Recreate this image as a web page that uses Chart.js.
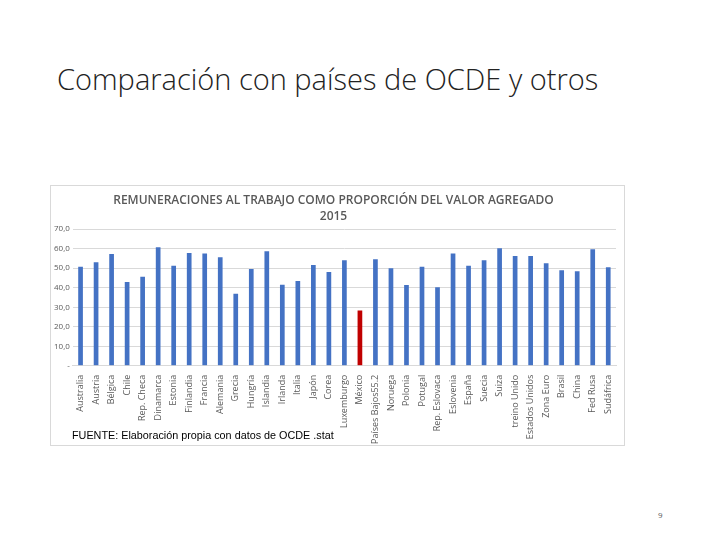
<!DOCTYPE html>
<html>
<head>
<meta charset="utf-8">
<script src="https://cdn.jsdelivr.net/npm/chart.js@4/dist/chart.umd.min.js"></script>
<style>
  html, body { margin: 0; padding: 0; background: #fff; }
  body { width: 720px; height: 540px; position: relative; overflow: hidden; font-family: "Open Sans", "Liberation Sans", sans-serif; }
  #titulo { position: absolute; left: 57px; top: 59px; font-size: 29px; font-weight: 300; color: #222; white-space: nowrap; }
  #marco { position: absolute; left: 50px; top: 185px; width: 575px; height: 261px; border: 1px solid #d9d9d9; box-sizing: border-box; }
  #grafico { display: block; }
  #fuente { position: absolute; left: 72px; top: 429px; font-family: "Liberation Sans", Arial, sans-serif; font-size: 10.8px; color: #000; white-space: nowrap; }
  #pagina { position: absolute; left: 658px; top: 509px; font-size: 8px; color: #595959; }
</style>
</head>
<body>
<div id="titulo">Comparación con países de OCDE y otros</div>
<div id="marco"><canvas id="grafico" width="573" height="259"></canvas></div>
<div id="fuente">FUENTE: Elaboración propia con datos de OCDE .stat</div>
<div id="pagina">9</div>
<script>
// Datos
const paises = ['Australia', 'Austria', 'Bélgica', 'Chile', 'Rep. Checa', 'Dinamarca', 'Estonia', 'Finlandia', 'Francia', 'Alemania',
  'Grecia', 'Hungría', 'Islandia', 'Irlanda', 'Italia', 'Japón', 'Corea', 'Luxemburgo', 'México', 'Países Bajos55.2',
  'Noruega', 'Polonia', 'Potugal', 'Rep. Eslovaca', 'Eslovenia', 'España', 'Suecia', 'Suiza', 'treino Unido', 'Estados Unidos',
  'Zona Euro', 'Brasil', 'China', 'Fed Rusa', 'Sudáfrica'];
const remuneraciones = [50.8, 53.0, 57.3, 42.9, 45.6, 60.8, 51.2, 57.8, 57.6, 55.6,
  36.9, 49.6, 58.7, 41.5, 43.4, 51.7, 48.0, 54.1, 28.3, 54.6,
  50.0, 41.4, 50.7, 40.3, 57.6, 51.2, 54.1, 60.2, 56.3, 56.3,
  52.5, 49.0, 48.5, 59.7, 50.5];
const resaltado = 'México';

const colores = paises.map(p => p === resaltado ? '#c00000' : '#4472c4');

new Chart(document.getElementById('grafico'), {
    type: 'bar',
    data: {
        labels: paises,
        datasets: [{
            data: remuneraciones,
            backgroundColor: colores,
            barPercentage: 0.55,
            categoryPercentage: 0.55
        }]
    },
    options: {
        responsive: false,
        animation: false,
        layout: { padding: { left: 0, right: 8, top: 3, bottom: 0 } },
        plugins: {
            legend: { display: false },
            tooltip: { enabled: false },
            title: {
                display: true,
                text: ['REMUNERACIONES AL TRABAJO COMO PROPORCIÓN DEL VALOR AGREGADO', '2015'],
                color: '#595959',
                font: { family: '"Open Sans", "Liberation Sans", sans-serif', size: 12, weight: '600', lineHeight: 1.3 },
                padding: { top: 4, bottom: 5 }
            }
        },
        scales: {
            x: {
                grid: { display: false },
                border: { color: '#d9d9d9' },
                ticks: {
                    autoSkip: false,
                    minRotation: 90,
                    maxRotation: 90,
                    color: '#595959',
                    padding: 1,
                    font: { family: '"Open Sans", "Liberation Sans", sans-serif', size: 9 }
                }
            },
            y: {
                min: 0,
                max: 70,
                grid: { color: '#d9d9d9', drawTicks: false },
                border: { display: false },
                ticks: {
                    stepSize: 10,
                    color: '#595959',
                    padding: 3,
                    font: { family: '"Open Sans", "Liberation Sans", sans-serif', size: 8 },
                    callback: v => v === 0 ? '-' : v.toFixed(1).replace('.', ',')
                }
            }
        }
    }
});
</script>
</body>
</html>
